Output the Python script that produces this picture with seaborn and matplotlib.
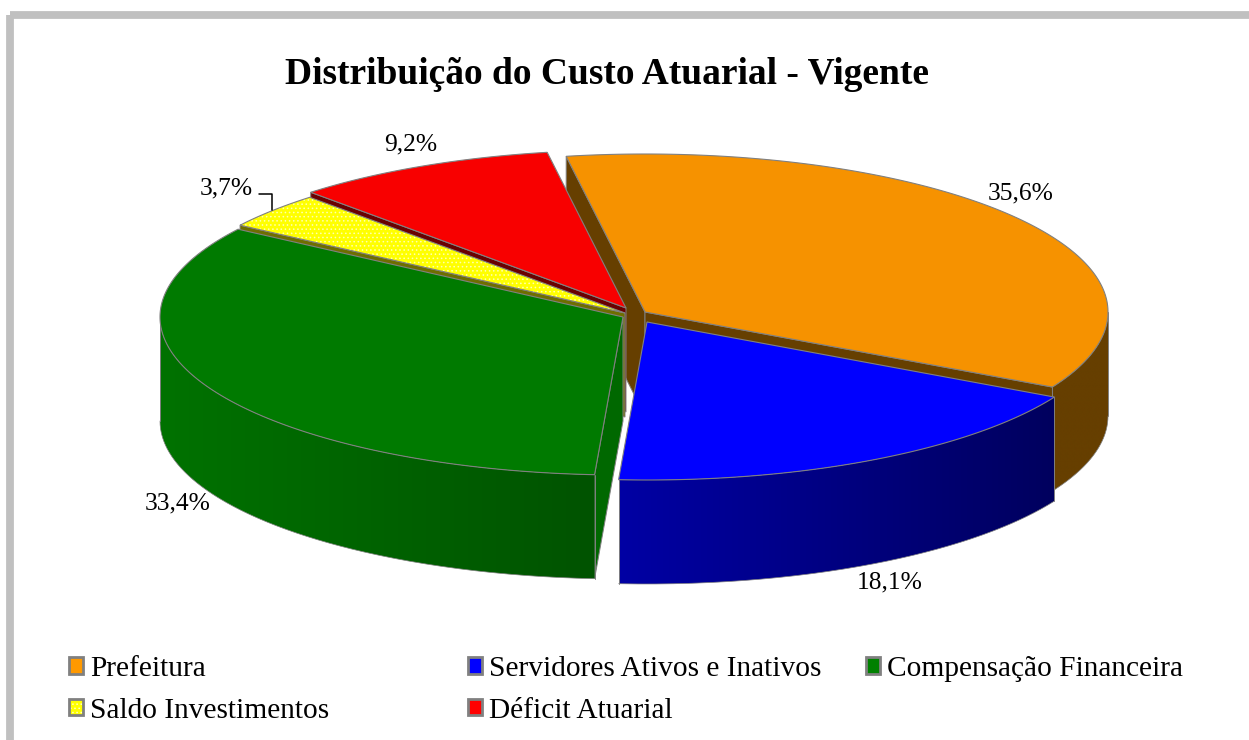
import numpy as np
import matplotlib
matplotlib.use("Agg")
import matplotlib.pyplot as plt
from matplotlib.colors import to_rgb
from matplotlib.patches import Patch, Rectangle, Polygon
from matplotlib.legend_handler import HandlerTuple
import seaborn as sns

# ---- data ----
categories = ["Prefeitura", "Servidores Ativos e Inativos", "Compensação Financeira",
              "Saldo Investimentos", "Déficit Atuarial"]
shares = [35.6, 18.1, 33.4, 3.7, 9.2]
title_text = "Distribuição do Custo Atuarial - Vigente"

# ---- styles ----
top_colors = ["#F69200", "#0000FF", "#007A00", "#FFFF00", "#F80000"]
legend_colors = ["#FF9900", "#0000FF", "#008000", "#FFFF00", "#FF0000"]
wall_left = ["#663F00", "#0000A4", "#007200", "#6E6E00", "#6A0000"]
wall_right = ["#663F00", "#00005E", "#005300", "#6E6E00", "#6A0000"]
apex = [(645, 312), (647, 322), (623, 317), (625, 313), (626, 308)]
label_pos = [(1021, 193), (890, 582), (178, 503), (226, 188), (411, 144)]
RX, RY, DEPTH, START = 463.0, 158.0, 104.0, -9.8
EDGE = "#808080"

sns.set_theme(style="white")
plt.rcParams["font.family"] = ["Liberation Serif", "DejaVu Serif"]
plt.rcParams["hatch.linewidth"] = 0.6

fig = plt.figure(figsize=(12.49, 7.40), dpi=100, facecolor="white")
ax = fig.add_axes([0, 0, 1, 1])

# outer chart frame
ax.add_patch(Rectangle((10.5, 14.5), 1400, 1000, fill=False, ec="#C0C0C0", lw=5.6,
                       joinstyle="round", zorder=0))

edges = START + np.concatenate([[0], np.cumsum(shares)]) * 3.6


def rim(i, deg):
    t = np.radians(deg)
    return apex[i][0] + RX * np.sin(t), apex[i][1] - RY * np.cos(t)


def radial_wall(i, deg, color, z):
    x, y = rim(i, deg)
    ax0, ay0 = apex[i]
    ax.fill([ax0, x, x, ax0], [ay0, y, y + DEPTH, ay0 + DEPTH], fc=color, ec=EDGE, lw=0.7, zorder=z)


def outer_wall(i, a0, a1, z):
    deg = np.linspace(a0, a1, 240)
    xs, ys = rim(i, deg)
    outline = np.c_[np.r_[xs, xs[::-1]], np.r_[ys, ys[::-1] + DEPTH]]
    clip = Polygon(outline, closed=True, fc="none", ec="none", transform=ax.transData)
    ax.add_patch(clip)
    c0, c1 = np.array(to_rgb(wall_left[i])), np.array(to_rgb(wall_right[i]))
    grad = (c0 + (c1 - c0) * np.linspace(0, 1, 256)[:, None])[None, :, :]
    im = ax.imshow(grad, extent=(xs.min(), xs.max(), (ys + DEPTH).max(), ys.min()),
                   aspect="auto", interpolation="bilinear", zorder=z)
    im.set_clip_path(clip)
    ax.plot(xs, ys + DEPTH, color=EDGE, lw=0.5, zorder=z)
    for k in (0, -1):
        ax.plot([xs[k], xs[k]], [ys[k], ys[k] + DEPTH], color=EDGE, lw=0.7, zorder=z)


def top_face(i, z):
    deg = np.linspace(edges[i], edges[i + 1], 200)
    xs, ys = rim(i, deg)
    px = np.r_[apex[i][0], xs]
    py = np.r_[apex[i][1], ys]
    ax.fill(px, py, fc=top_colors[i], ec="none", zorder=z)
    return px, py


# Orange (back-right slice)
radial_wall(0, edges[0], wall_left[0], 1)
radial_wall(0, edges[1], wall_left[0], 1)
outer_wall(0, 90, edges[1], 1)
px, py = top_face(0, 2)
ax.fill(px, py, fc="none", ec=EDGE, lw=0.8, zorder=2)

# Red
radial_wall(4, edges[4], wall_left[4], 3)
px, py = top_face(4, 4)
ax.fill(px, py, fc="none", ec=EDGE, lw=0.8, zorder=4)

# Yellow (dotted)
radial_wall(3, edges[3], wall_left[3], 5)
px, py = top_face(3, 6)
ax.fill(px, py, fc="none", ec="#FFFFB0", hatch="....", lw=0, zorder=6)
ax.fill(px, py, fc="none", ec=EDGE, lw=0.8, zorder=6)

# Green
radial_wall(2, edges[2], "#006800", 7)
outer_wall(2, edges[2], 270, 7)
px, py = top_face(2, 8)
ax.fill(px, py, fc="none", ec=EDGE, lw=0.8, zorder=8)

# Blue
outer_wall(1, edges[1], edges[2], 9)
px, py = top_face(1, 10)
ax.fill(px, py, fc="none", ec=EDGE, lw=0.8, zorder=10)

# Data labels
for v, (x, y) in zip(shares, label_pos):
    ax.text(x, y, f"{v:.1f}".replace(".", ",") + "%", ha="center", va="center",
            fontsize=18.4, color="black", zorder=20)
ax.plot([259, 272, 272], [194, 194, 210], color="black", lw=1.1, zorder=20)

# Title
ax.text(607, 75, title_text, ha="center", va="center", fontsize=27, fontweight="bold",
        color="black", zorder=20)

ax.set_xlim(0, 1249)
ax.set_ylim(740, 0)
ax.set_aspect("auto")
ax.axis("off")

# Legend: three columns, each positioned as in the reference
handles = []
for i, name in enumerate(categories):
    if i == 3:
        handles.append((Patch(facecolor=legend_colors[i], edgecolor="#FFFFC0", hatch="....", linewidth=0),
                        Patch(facecolor="none", edgecolor=EDGE, linewidth=2.0)))
    else:
        handles.append(Patch(facecolor=legend_colors[i], edgecolor=EDGE, linewidth=2.0))
columns = [([0, 3], 69.0), ([1, 4], 468.0), ([2], 866.0)]
for idx, x0 in columns:
    leg = fig.legend(handles=[handles[j] for j in idx], labels=[categories[j] for j in idx],
                     loc="upper left", bbox_to_anchor=(x0 / 1249, 1 - 656 / 740),
                     borderaxespad=0, borderpad=0, frameon=False, fontsize=21.2,
                     handlelength=0.47, handleheight=0.47, handletextpad=0.26, labelspacing=0.53,
                     handler_map={tuple: HandlerTuple(ndivide=1, pad=0)})
    for t in leg.get_texts():
        t.set_color("black")

fig.savefig("out.png", dpi=100, facecolor="white")
